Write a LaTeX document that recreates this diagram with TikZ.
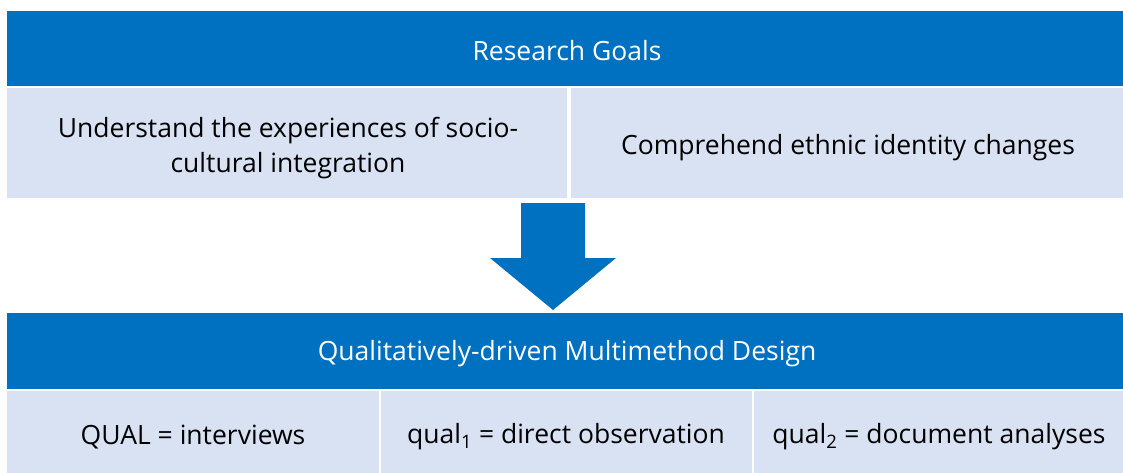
\documentclass[tikz,border=0pt]{standalone}
\usepackage{fontspec}
\setmainfont{Open Sans}
\definecolor{hdrblue}{HTML}{0070C0}
\definecolor{cellblue}{HTML}{D9E2F3}
\begin{document}
\begin{tikzpicture}[x=1pt,y=-1pt,
  hdr/.style={fill=hdrblue},
  cell/.style={fill=cellblue},
  hdrtext/.style={text=white,font=\fontsize{26.5}{33}\selectfont},
  celltext/.style={text=black,font=\fontsize{26.5}{35}\selectfont,align=center}]
\useasboundingbox (0,0) rectangle (1123,473);
% top table
\fill[hdr] (7,11) rectangle (1123,86);
\fill[cell] (7,88) rectangle (567,198);
\fill[cell] (571,88) rectangle (1123,198);
\node[hdrtext] (rg) at (567,51) {Research Goals};
\node[celltext] (g1) at (288,148) {Understand the experiences of socio-\\cultural integration};
\node[celltext] (g2) at (848,148) {Comprehend ethnic identity changes};
% arrow
\fill[hdrblue] (521,203) -- (585,203) -- (585,258) -- (616,258) -- (553,310) -- (490,258) -- (521,258) -- cycle;
% bottom table
\fill[hdr] (7,313) rectangle (1123,389);
\fill[cell] (7,391) rectangle (379,473);
\fill[cell] (381,391) rectangle (752,473);
\fill[cell] (754,391) rectangle (1123,473);
\node[hdrtext] (qd) at (567,354) {Qualitatively-driven Multimethod Design};
\node[celltext] (m1) at (193,437) {QUAL = interviews};
\node[celltext] (m2) at (566,437) {qual\textsubscript{1} = direct observation};
\node[celltext] (m3) at (939,437) {qual\textsubscript{2} = document analyses};
\end{tikzpicture}
\end{document}
